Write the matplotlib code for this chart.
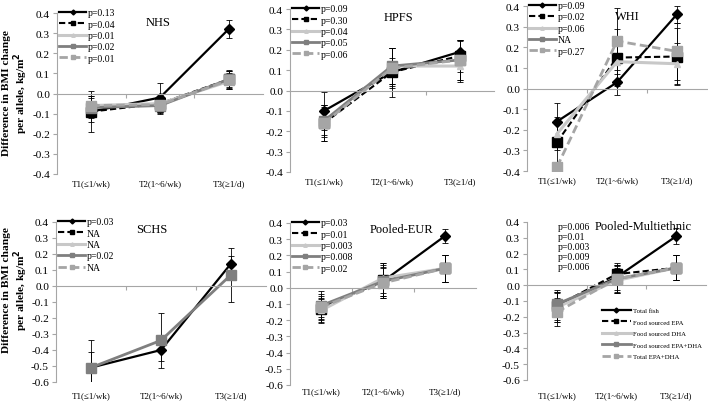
import numpy as np
import matplotlib
matplotlib.use('Agg')
import matplotlib.pyplot as plt
from matplotlib import transforms
from matplotlib.ticker import MultipleLocator, FormatStrFormatter

plt.rcParams['font.family'] = ['Liberation Serif', 'DejaVu Serif']
plt.rcParams['axes.unicode_minus'] = False

NA = np.nan

tiers = ['T1(≤1/wk)', 'T2(1~6/wk)', 'T3(≥1/d)']
series = ['Total fish', 'Food sourced EPA', 'Food sourced DHA',
          'Food sourced EPA+DHA', 'Total EPA+DHA']
cohorts = ['NHS', 'HPFS', 'WHI', 'SCHS', 'Pooled-EUR', 'Pooled-Multiethnic']

# rows = series, cols = tiers
nhs_mean = [[-0.09, -0.02, 0.32], [-0.09, -0.05, 0.07], [-0.06, -0.05, 0.06],
            [-0.07, -0.06, 0.07], [-0.06, -0.055, 0.065]]
nhs_err = [[0.10, 0.07, 0.045], [0.05, 0.04, 0.04], [0.05, 0.04, 0.04],
           [0.05, 0.04, 0.045], [0.05, 0.04, 0.045]]
nhs_p = ['p=0.13', 'p=0.04', 'p=0.01', 'p=0.02', 'p=0.01']

hpfs_mean = [[-0.10, 0.09, 0.19], [-0.16, 0.09, 0.17], [-0.15, 0.12, 0.12],
             [-0.15, 0.12, 0.15], [-0.16, 0.11, 0.15]]
hpfs_err = [[0.095, 0.07, 0.055], [0.09, 0.12, 0.08], [0.08, 0.09, 0.08],
            [0.07, 0.09, 0.10], [0.09, 0.10, 0.10]]
hpfs_p = ['p=0.09', 'p=0.30', 'p=0.04', 'p=0.05', 'p=0.06']

whi_mean = [[-0.16, 0.03, 0.36], [-0.26, 0.15, 0.155], [-0.22, 0.13, 0.12],
            [NA, NA, NA], [-0.38, 0.23, 0.18]]
whi_err = [[0.09, 0.06, 0.04], [0.10, 0.14, 0.14], [0.08, 0.10, 0.10],
           [NA, NA, NA], [0.02, 0.16, 0.14]]
whi_p = ['p=0.09', 'p=0.02', 'p=0.06', 'NA', 'p=0.27']

schs_mean = [[-0.51, -0.40, 0.14], [NA, NA, NA], [NA, NA, NA],
             [-0.51, -0.34, 0.07], [NA, NA, NA]]
schs_err = [[0.10, 0.07, 0.05], [NA, NA, NA], [NA, NA, NA],
            [0.17, 0.17, 0.17], [NA, NA, NA]]
schs_p = ['p=0.03', 'NA', 'NA', 'p=0.02', 'NA']

eur_mean = [[-0.12, 0.04, 0.32], [-0.13, 0.05, 0.12], [-0.14, 0.06, 0.12],
            [-0.11, 0.04, 0.12], [-0.12, 0.03, 0.12]]
eur_err = [[0.10, 0.10, 0.045], [0.07, 0.10, 0.085], [0.07, 0.09, 0.085],
           [0.07, 0.09, 0.085], [0.07, 0.09, 0.085]]
eur_p = ['p=0.03', 'p=0.01', 'p=0.003', 'p=0.008', 'p=0.02']

multi_mean = [[-0.13, 0.05, 0.31], [-0.13, 0.07, 0.11], [-0.14, 0.03, 0.11],
              [-0.12, 0.04, 0.11], [-0.17, 0.04, 0.11]]
multi_err = [[0.10, 0.08, 0.05], [0.09, 0.07, 0.08], [0.09, 0.08, 0.08],
             [0.08, 0.08, 0.08], [0.09, 0.09, 0.08]]
multi_p = ['p=0.006', 'p=0.01', 'p=0.003', 'p=0.009', 'p=0.006']

means = [nhs_mean, hpfs_mean, whi_mean, schs_mean, eur_mean, multi_mean]
errs = [nhs_err, hpfs_err, whi_err, schs_err, eur_err, multi_err]
pvals = [nhs_p, hpfs_p, whi_p, schs_p, eur_p, multi_p]

# styles per series
STYLES = [
    dict(color='black', ls='-', lw=1.6, marker='D', ms=5),
    dict(color='black', ls='--', lw=1.5, marker='s', ms=6.5),
    dict(color='#C8C8C8', ls='-', lw=2.2, marker='^', ms=5),
    dict(color='#7F7F7F', ls='-', lw=2.0, marker='s', ms=6.5),
    dict(color='#A5A5A5', ls='--', lw=2.0, marker='s', ms=7),
]
GRID = '#A6A6A6'

W, H = 708, 402
# axes boxes in pixels: left, right, top, bottom
BOXES = [(57, 263, 14, 175), (290, 494, 10, 173), (527, 707, 7, 172),
         (56, 266, 223, 383), (290, 476, 224, 386), (527, 706, 223, 381)]
YLIMS = [(-0.4, 0.4)] * 3 + [(-0.6, 0.4)] * 3
LABEL_OFF = [9, 9, 9, 13, 6, 15]
TITLE_POS = [(0.49, 0.944), (0.53, 0.95), (0.56, 0.94),
             (0.457, 0.956), (0.60, 0.963), (0.648, 0.975)]

fig = plt.figure(figsize=(W / 100, H / 100), dpi=100)
x = np.arange(len(tiers))

for k, name in enumerate(cohorts):
    l, r, t, b = BOXES[k]
    ax = fig.add_axes([l / W, 1 - b / H, (r - l) / W, (b - t) / H])
    handles = []
    for s in range(len(series)):
        st = STYLES[s]
        eb = ax.errorbar(x, means[k][s], yerr=errs[k][s], color=st['color'],
                         ls=st['ls'], lw=st['lw'], marker=st['marker'],
                         ms=st['ms'], mec=st['color'], ecolor='black',
                         elinewidth=0.6, capsize=2, capthick=0.6,
                         dashes=(3, 1.5) if st['ls'] == '--' else (None, None))
        handles.append(eb.lines[0])

    ax.set_xlim(-0.5, len(tiers) - 0.5)
    ax.set_ylim(*YLIMS[k])
    ax.yaxis.set_major_locator(MultipleLocator(0.1))
    ax.yaxis.set_major_formatter(FormatStrFormatter('%.1f'))
    ax.tick_params(axis='y', direction='out', length=3, color=GRID,
                   labelsize=8.2, pad=2)
    for sp in ['top', 'right']:
        ax.spines[sp].set_visible(False)
    ax.spines['left'].set_color(GRID)
    ax.spines['bottom'].set_color(GRID)
    ax.spines['left'].set_linewidth(0.8)
    ax.spines['bottom'].set_linewidth(0.8)
    ax.spines['bottom'].set_position(('data', 0))
    ax.set_xticks(x[:-1] + 0.5)
    ax.set_xticklabels([])
    ax.tick_params(axis='x', direction='out', length=3, color=GRID)

    trans = transforms.blended_transform_factory(ax.transData, ax.transAxes)
    off = -LABEL_OFF[k] / (b - t)
    for i, lab in enumerate(tiers):
        ax.text(i, off, lab, transform=trans, ha='center', va='center',
                fontsize=6.5)

    ax.text(TITLE_POS[k][0], TITLE_POS[k][1], name, transform=ax.transAxes,
            ha='center', va='center', fontsize=9)

    if k < 5:
        ax.legend(handles, pvals[k], loc='upper left',
                  bbox_to_anchor=(0.01, 1.03), frameon=False, fontsize=7,
                  handlelength=2.8, handletextpad=0.15, labelspacing=0.25,
                  borderaxespad=0, borderpad=0, markerscale=0.5)
    else:
        ax.text(0.17, 1.0, '\n'.join(pvals[k]), transform=ax.transAxes,
                ha='left', va='top', fontsize=7, linespacing=1.15)
        ax.legend(handles, series, loc='upper left',
                  bbox_to_anchor=(0.42, 0.46), frameon=False, fontsize=4.9,
                  handlelength=4.2, handletextpad=0.3, labelspacing=0.85,
                  borderaxespad=0, borderpad=0, markerscale=0.5)

ylab = 'Difference in BMI change\nper allele, kg/m$^\\mathbf{2}$'
for yc in (93, 290):
    fig.text(16 / W, 1 - yc / H, ylab, rotation=90, ha='center', va='center',
             fontsize=8.2, fontweight='bold', multialignment='center',
             linespacing=1.1)

fig.savefig('out.png', dpi=100)
